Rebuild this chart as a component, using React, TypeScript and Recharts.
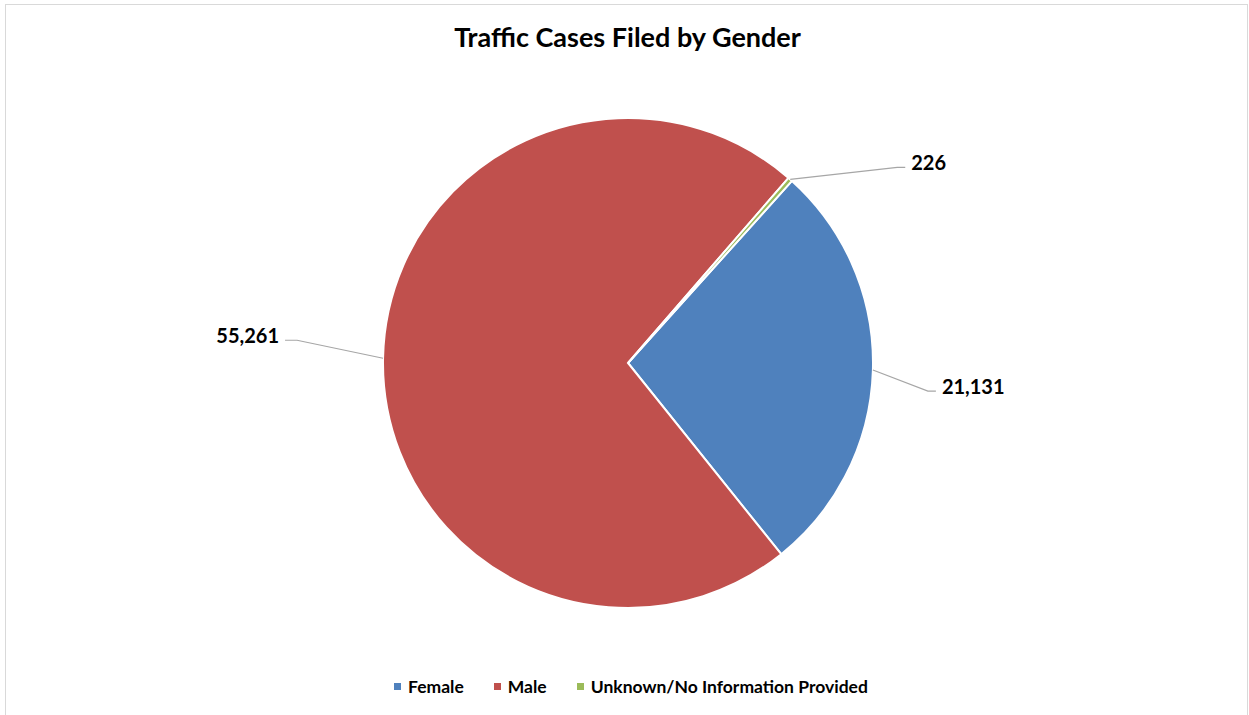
import React from 'react';
import { PieChart, Pie, Cell } from 'recharts';

const categories = ['Female', 'Male', 'Unknown/No Information Provided'];
const caseCounts = [21131, 55261, 226];
const sliceColors = ['#4F81BD', '#C0504D', '#9BBB59'];

const chartData = categories.map((name, i) => ({ name, value: caseCounts[i] }));

const FONT = 'Lato, "Open Sans", sans-serif';
const RADIAN = Math.PI / 180;

// leader line layout per slice: elbow offset from the slice edge, then a short horizontal run
const labelLayout = [
  { dx: 55, dy: 21, run: 8, side: 1 },
  { dx: -86, dy: -18, run: -12, side: -1 },
  { dx: 107, dy: -12, run: 8, side: 1 },
];

const renderLabel = (props: any) => {
  const { cx, cy, midAngle, outerRadius, index, value } = props;
  const ex = cx + outerRadius * Math.cos(-midAngle * RADIAN);
  const ey = cy + outerRadius * Math.sin(-midAngle * RADIAN);
  const l = labelLayout[index];
  const bx = ex + l.dx;
  const by = ey + l.dy;
  const tx = bx + l.run;
  return (
    <g>
      <polyline points={`${ex},${ey} ${bx},${by} ${tx},${by}`} fill="none" stroke="#a6a6a6" strokeWidth={1.2} />
      <text
        x={tx + l.side * 6}
        y={by - 5}
        textAnchor={l.side > 0 ? 'start' : 'end'}
        dominantBaseline="central"
        fontFamily={FONT}
        fontWeight={700}
        fontSize={20}
        fill="#000"
      >
        {Number(value).toLocaleString('en-US')}
      </text>
    </g>
  );
};

export default function App() {
  return (
    <div style={{ position: 'absolute', left: 0, top: 0, width: 1249, height: 715, background: '#fff', overflow: 'hidden' }}>
      <div style={{ position: 'absolute', left: 5, top: 4, width: 1241, height: 740, border: '1px solid #d9d9d9' }} />
      <div
        style={{
          position: 'absolute', left: 0, top: 20, width: 1255, textAlign: 'center',
          fontFamily: FONT, fontWeight: 700, fontSize: 27, color: '#000',
        }}
      >
        Traffic Cases Filed by Gender
      </div>
      <div style={{ position: 'absolute', left: 0, top: 0 }}>
        <PieChart width={1249} height={715} margin={{ top: 0, right: 0, bottom: 0, left: 0 }}>
          <Pie
            data={chartData}
            dataKey="value"
            nameKey="name"
            cx={628}
            cy={363}
            outerRadius={245}
            startAngle={48}
            endAngle={-312}
            stroke="#fff"
            strokeWidth={2}
            label={renderLabel}
            labelLine={false}
            isAnimationActive={false}
          >
            {chartData.map((d, i) => (
              <Cell key={d.name} fill={sliceColors[i]} />
            ))}
          </Pie>
        </PieChart>
      </div>
      <div
        style={{
          position: 'absolute', left: 0, top: 676, width: 1262, display: 'flex', justifyContent: 'center',
          fontFamily: FONT, fontWeight: 700, fontSize: 17.5, color: '#000',
        }}
      >
        {categories.map((c, i) => (
          <div key={c} style={{ display: 'flex', alignItems: 'center', marginRight: i < categories.length - 1 ? 30 : 0 }}>
            <span style={{ width: 7, height: 7, background: sliceColors[i], marginRight: 7, display: 'inline-block' }} />
            <span>{c}</span>
          </div>
        ))}
      </div>
    </div>
  );
}
